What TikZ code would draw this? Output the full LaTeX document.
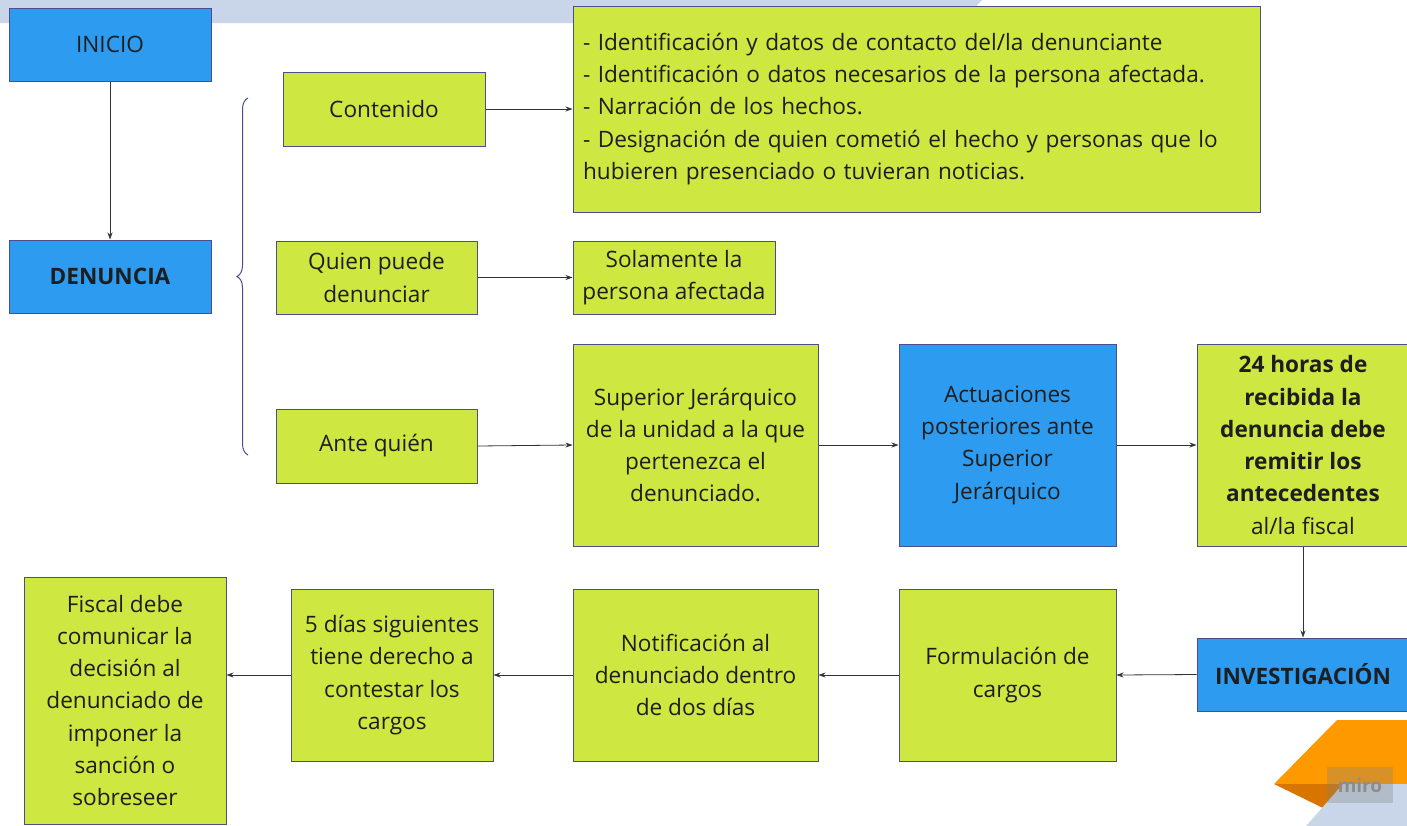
\documentclass[tikz,border=0pt]{standalone}
\usepackage{fontspec}
\setmainfont{Open Sans}
\usetikzlibrary{arrows.meta,decorations.pathreplacing}
\definecolor{gfill}{HTML}{CEE841}
\definecolor{bfill}{HTML}{2D9BF0}
\definecolor{bord}{HTML}{4A4F8C}
\definecolor{band}{HTML}{C9D5E8}
\definecolor{orng}{HTML}{FF9900}
\definecolor{orngd}{HTML}{D87500}
\definecolor{txt}{HTML}{1E1E1E}
\begin{document}
\begin{tikzpicture}[x=1pt,y=-1pt,
 box/.style={draw=bord, line width=1pt, align=center, inner sep=0pt, text=txt, font=\fontsize{22.6}{32.3}\selectfont},
 gbox/.style={box, fill=gfill},
 bbox/.style={box, fill=bfill},
 conn/.style={draw=black!80, line width=0.8pt, -{Stealth[length=7pt,width=5pt]}}]
\clip (0,0) rectangle (1407,825);
\fill[white] (0,0) rectangle (1407,825);
\fill[band] (0,0) -- (982,0) -- (960,23) -- (0,23) -- cycle;
% decoration bottom right
\fill[orng] (1274,784) -- (1337,720) -- (1410,720) -- (1410,784) -- cycle;
\fill[orngd] (1274,784) -- (1343,784) -- (1323,808) -- cycle;
\fill[band] (1343,784) -- (1410,784) -- (1410,830) -- (1302.6,830) -- cycle;
\fill[gray, opacity=0.3] (1327,767) rectangle (1393,803);
\node[text=black!45, font=\fontsize{19}{22}\selectfont\bfseries, inner sep=0pt] (miro) at (1360,785) {miro};

% nodes
\node[bbox, minimum width=202, minimum height=73] (inicio) at (110,44.5) {INICIO};
\node[bbox, minimum width=202, minimum height=73, font=\fontsize{22.6}{32}\selectfont\bfseries] (denuncia) at (110,276.5) {DENUNCIA};
\node[gbox, minimum width=202, minimum height=74] (contenido) at (384,109) {Contenido};
\node[gbox, minimum width=201, minimum height=73] (quien) at (376.5,277.5) {Quien puede\\denunciar};
\node[gbox, minimum width=201, minimum height=74] (ante) at (376.5,446) {Ante quién};
\node[gbox, minimum width=687, minimum height=206, inner xsep=10pt, text width=667, align=left] (datos) at (916.5,109) {- Identificación y datos de contacto del/la denunciante\\- Identificación o datos necesarios de la persona afectada.\\- Narración de los hechos.\\- Designación de quien cometió el hecho y personas que lo\\hubieren presenciado o tuvieran noticias.};
\node[gbox, minimum width=202, minimum height=73] (solamente) at (674,277.5) {Solamente la\\persona afectada};
\node[gbox, minimum width=245, minimum height=202] (superior) at (695.5,445) {Superior Jerárquico\\de la unidad a la que\\pertenezca el\\denunciado.};
\node[bbox, minimum width=217, minimum height=202] (actuaciones) at (1007.5,445) {Actuaciones\\posteriores ante\\Superior\\Jerárquico};
\node[gbox, minimum width=212, minimum height=202] (horas) at (1303,445) {\textbf{24 horas de}\\\textbf{recibida la}\\\textbf{denuncia debe}\\\textbf{remitir los}\\\textbf{antecedentes}\\al/la fiscal};
\node[bbox, minimum width=212, minimum height=73, font=\fontsize{22.6}{32}\selectfont\bfseries] (investigacion) at (1303,674.5) {INVESTIGACIÓN};
\node[gbox, minimum width=217, minimum height=172] (formulacion) at (1007.5,675) {Formulación de\\cargos};
\node[gbox, minimum width=245, minimum height=172] (notificacion) at (695.5,675) {Notificación al\\denunciado dentro\\de dos días};
\node[gbox, minimum width=202, minimum height=172] (dias) at (392,675) {5 días siguientes\\tiene derecho a\\contestar los\\cargos};
\node[gbox, minimum width=202, minimum height=247] (fiscal) at (125,700.5) {Fiscal debe\\comunicar la\\decisión al\\denunciado de\\imponer la\\sanción o\\sobreseer};

% brace
\draw[draw=bord, line width=1pt, decorate, decoration={brace, amplitude=11pt}] (248,455) -- (248,98);

% connectors
\draw[conn] (inicio) -- (denuncia);
\draw[conn] (contenido.east) -- (datos.west);
\draw[conn] (quien.east) -- (solamente.west);
\draw[conn] (ante.east) -- (superior.west);
\draw[conn] (superior.east) -- (actuaciones.west);
\draw[conn] (actuaciones.east) -- (horas.west);
\draw[conn] (horas) -- (investigacion);
\draw[conn] (investigacion.west) -- (formulacion.east);
\draw[conn] (formulacion.west) -- (notificacion.east);
\draw[conn] (notificacion.west) -- (dias.east);
\draw[conn] (dias.west) -- (dias.west -| fiscal.east);
\end{tikzpicture}
\end{document}
